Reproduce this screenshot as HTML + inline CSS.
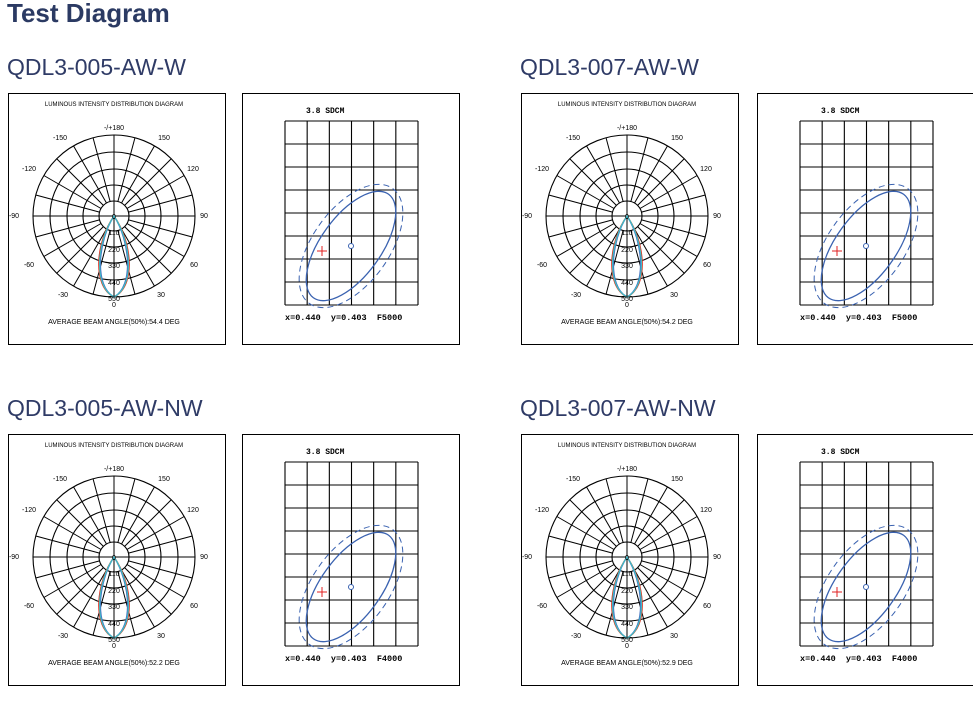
<!DOCTYPE html>
<html><head><meta charset="utf-8"><style>
body{margin:0;background:#fff;width:973px;height:727px;overflow:hidden}
svg{display:block}
</style></head><body>
<svg id="s" width="973" height="727" xmlns="http://www.w3.org/2000/svg" font-family="Liberation Sans, sans-serif">
<text x="7" y="22" font-size="26" font-weight="bold" fill="#2b3a63">Test Diagram</text>
</svg>
<script>
const s=document.getElementById('s');let h='';
function polar(ox,oy,beam){
  h+=`<rect x="${ox+8.5}" y="${oy+93.5}" width="217" height="251" fill="none" stroke="#000" stroke-width="1"/>`;
  const cx=ox+114,cy=oy+216;
  h+=`<text x="${cx}" y="${oy+106}" font-size="6" text-anchor="middle">LUMINOUS INTENSITY DISTRIBUTION DIAGRAM</text>`;
  [15,31,47,64,81].forEach(r=>h+=`<circle cx="${cx}" cy="${cy}" r="${r}" fill="none" stroke="#000" stroke-width="1.1"/>`);
  for(let a=0;a<360;a+=15){const t=a*Math.PI/180;const r1=15;
    h+=`<line x1="${cx+r1*Math.cos(t)}" y1="${cy+r1*Math.sin(t)}" x2="${cx+81*Math.cos(t)}" y2="${cy+81*Math.sin(t)}" stroke="#000" stroke-width="1"/>`;}
  h+=`<line x1="${cx-81}" y1="${cy}" x2="${cx+81}" y2="${cy}" stroke="#000"/><line x1="${cx}" y1="${cy-81}" x2="${cx}" y2="${cy+81}" stroke="#000"/>`;
  const L=[["-/+180",0,-86],["-150",-54,-76],["150",50,-76],["-120",-85,-45],["120",79,-45],["-90",-100,2],["90",90,2],["-60",-85,51],["60",80,51],["-30",-51,81],["30",47,81],["0",0,91]];
  L.forEach(l=>h+=`<text x="${cx+l[1]}" y="${cy+l[2]}" font-size="7" text-anchor="middle">${l[0]}</text>`);
  const c=[["#e03020",18],["#70c030",17],["#4070c0",16],["#40b8c8",17]];
  c.forEach(k=>{const w=k[1];h+=`<path d="M${cx} ${cy} C${cx-w*1.0} ${cy+25},${cx-w*1.25} ${cy+70},${cx} ${cy+81} C${cx+w*1.25} ${cy+70},${cx+w*1.0} ${cy+25},${cx} ${cy}Z" fill="none" stroke="${k[0]}" stroke-width="1.2"/>`});
  [["0",3],["110",19],["220",36],["330",52],["440",69],["550",85]].forEach(l=>h+=`<text x="${cx}" y="${cy+l[1]}" font-size="7" text-anchor="middle">${l[0]}</text>`);
  h+=`<text x="${cx}" y="${oy+324}" font-size="7" text-anchor="middle">AVERAGE BEAM ANGLE(50%):${beam} DEG</text>`;
}
function cie(ox,oy,f){
  h+=`<rect x="${ox+242.5}" y="${oy+93.5}" width="217" height="251" fill="none" stroke="#000"/>`;
  const x0=ox+285,y0=oy+121,w=133,hh=184;
  for(let i=0;i<=6;i++)h+=`<line x1="${x0+i*w/6}" y1="${y0}" x2="${x0+i*w/6}" y2="${y0+hh}" stroke="#000" stroke-width="1.1"/>`;
  for(let j=0;j<=8;j++)h+=`<line x1="${x0}" y1="${y0+j*hh/8}" x2="${x0+w}" y2="${y0+j*hh/8}" stroke="#000" stroke-width="1.1"/>`;
  h+=`<text x="${ox+306}" y="${oy+113}" font-size="8" font-weight="bold" font-family="Liberation Mono,monospace">3.8 SDCM</text>`;
  const ex=ox+351,ey=oy+246;
  h+=`<ellipse cx="${ex}" cy="${ey}" rx="64" ry="30" transform="rotate(-54 ${ex} ${ey})" fill="none" stroke="#3a62b0" stroke-width="1.3"/>`;
  h+=`<ellipse cx="${ex}" cy="${ey}" rx="71" ry="38" transform="rotate(-54 ${ex} ${ey})" fill="none" stroke="#3a62b0" stroke-width="1" stroke-dasharray="6,4"/>`;
  h+=`<circle cx="${ex}" cy="${ey}" r="2.5" fill="#fff" stroke="#3a62b0"/>`;
  h+=`<path d="M${ox+317} ${oy+251}h10M${ox+322} ${oy+246}v10" stroke="#e02020" stroke-width="1"/>`;
  h+=`<text x="${ox+285}" y="${oy+320}" font-size="8.5" font-weight="bold" font-family="Liberation Mono,monospace" xml:space="preserve">x=0.440  y=0.403  ${f}</text>`;
}
const D=[[0,0,"QDL3-005-AW-W","54.4","F5000"],[513,0,"QDL3-007-AW-W","54.2","F5000"],[0,341,"QDL3-005-AW-NW","52.2","F4000"],[513,341,"QDL3-007-AW-NW","52.9","F4000"]];
D.forEach(d=>{h+=`<text x="${d[0]+7}" y="${d[1]+75}" font-size="23" fill="#2f3b66">${d[2]}</text>`;polar(d[0],d[1],d[3]);cie(d[0]+(d[0]?2:0),d[1],d[4]);});
s.insertAdjacentHTML('beforeend',h);
</script>
</body></html>
